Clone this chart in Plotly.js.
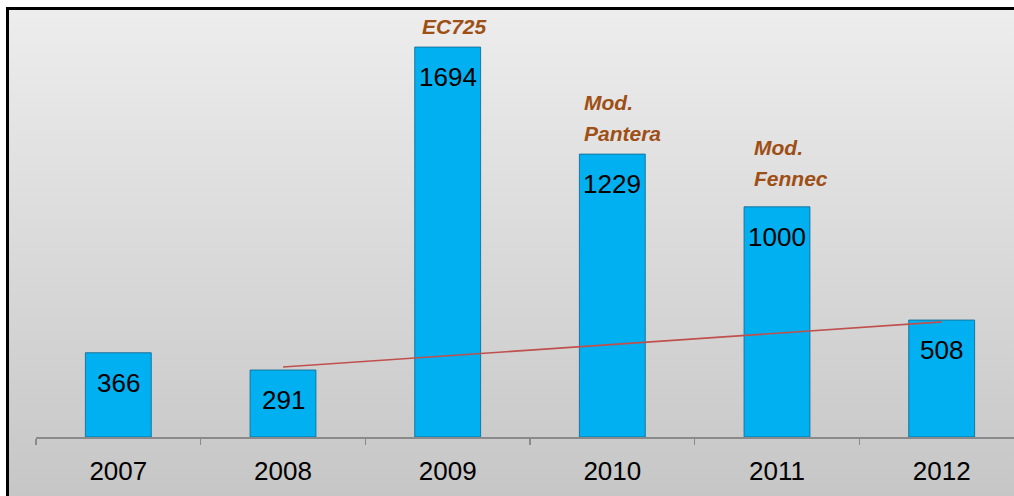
<!DOCTYPE html>
<html>
<head>
<meta charset="utf-8">
<script src="https://cdn.plot.ly/plotly-3.0.1.min.js"></script>
<style>
  html, body { margin: 0; padding: 0; background: #ffffff; overflow: hidden; width: 1014px; height: 496px; }
  #frame { position: absolute; left: 6px; top: 7px; width: 1100px; height: 600px;
           border-left: 3px solid #000; border-top: 3px solid #000;
           background: linear-gradient(to bottom, #ededed 0px, #c6c6c6 489px); }
  #chart { position: absolute; left: 0; top: 0; width: 1031px; height: 496px; }
</style>
</head>
<body>
<div id="frame"></div>
<div id="chart"></div>
<script>
// ---- data ----
const years = ['2007', '2008', '2009', '2010', '2011', '2012'];
const values = [366, 291, 1694, 1229, 1000, 508];
const trendYears = ['2008', '2012'];
const trendValues = [304, 500];
const noteYears = ['2009', '2010', '2010', '2011', '2011'];
const noteTexts = ['EC725', 'Mod.', 'Pantera', 'Mod.', 'Fennec'];

// ---- styles ----
const noteShiftX = [-28, -30, -30, -25, -25];
const noteShiftY = [7, 38, 7, 46, 15];
const FONT = 'Liberation Sans';

const bars = {
  type: 'bar',
  x: years,
  y: values,
  marker: { color: '#00b0f0', line: { color: 'rgba(18,105,145,0.85)', width: 1 } },
  hoverinfo: 'skip'
};
const trend = {
  type: 'scatter',
  mode: 'lines',
  x: trendYears,
  y: trendValues,
  line: { color: '#c0504d', width: 1.6 },
  hoverinfo: 'skip'
};

// category names look numeric, so annotations are placed by category index
const annotations = [];
for (let i = 0; i < years.length; i++) {
  annotations.push({
    x: i, y: values[i], xref: 'x', yref: 'y',
    text: String(values[i]), showarrow: false,
    xanchor: 'center', yanchor: 'top', yshift: -13,
    font: { family: FONT, size: 26, color: '#000000' }
  });
}
for (let i = 0; i < noteTexts.length; i++) {
  const idx = years.indexOf(noteYears[i]);
  annotations.push({
    x: idx, y: values[idx], xref: 'x', yref: 'y',
    text: '<b><i>' + noteTexts[i] + '</i></b>', showarrow: false,
    xanchor: 'left', yanchor: 'bottom',
    xshift: noteShiftX[i], yshift: noteShiftY[i],
    font: { family: FONT, size: 21, color: '#9e4f16' }
  });
}

const layout = {
  width: 1031, height: 496,
  margin: { l: 36, r: 7, t: 10, b: 59 },
  paper_bgcolor: 'rgba(0,0,0,0)',
  plot_bgcolor: 'rgba(0,0,0,0)',
  showlegend: false,
  bargap: 0.6,
  xaxis: {
    type: 'category',
    range: [-0.5, 5.5],
    showline: true, linecolor: '#8a8a8a', linewidth: 1.5,
    ticks: 'outside', tickson: 'boundaries', ticklen: 6, tickcolor: '#8a8a8a', tickwidth: 1.5,
    ticklabelstandoff: 10,
    showgrid: false, zeroline: false,
    tickfont: { family: FONT, size: 26, color: '#000000' }
  },
  yaxis: {
    range: [0, 1855],
    showticklabels: false, showline: false, ticks: '', showgrid: false, zeroline: false
  },
  annotations: annotations
};

Plotly.newPlot('chart', [bars, trend], layout, { displayModeBar: false, staticPlot: true });
</script>
</body>
</html>
